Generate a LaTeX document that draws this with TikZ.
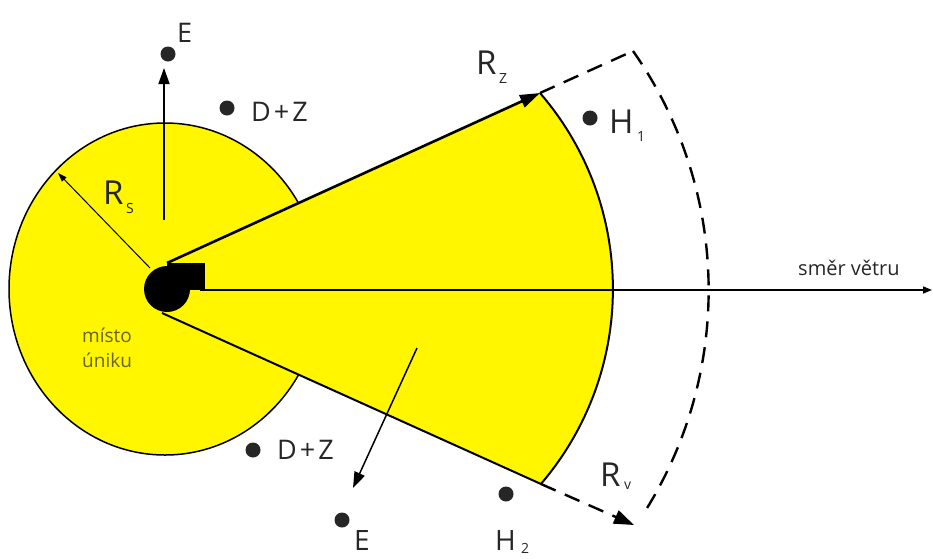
\documentclass[tikz,border=0pt]{standalone}
\usepackage{fontspec}
\setmainfont{Open Sans}
\usetikzlibrary{arrows.meta}
\definecolor{zel}{RGB}{255,246,0}
\definecolor{ink}{RGB}{38,38,38}
\definecolor{olv}{RGB}{105,100,35}
\begin{document}
\begin{tikzpicture}[x=1pt,y=-1pt,
  lbl/.style={anchor=base west, inner sep=0pt, text=ink, font=\fontsize{27}{31}\selectfont},
  big/.style={anchor=base west, inner sep=0pt, text=ink, font=\fontsize{33}{38}\selectfont},
  sub/.style={anchor=base west, inner sep=0pt, text=ink, font=\fontsize{14}{16}\selectfont},
  small/.style={anchor=base west, inner sep=0pt, text=ink, font=\fontsize{20}{24}\selectfont},
  dot/.style={circle, fill=ink, minimum size=15pt, inner sep=0pt},
  edge/.style={line width=2pt, draw=black},
  dsh/.style={line width=2.4pt, dash pattern=on 16pt off 10pt},
  thinarrow/.style={line width=1.5pt, -{Triangle[length=16pt,width=11pt]}}]
\useasboundingbox (0,0) rectangle (933,558);
% release zone
\fill[zel] (165,289) ellipse [x radius=156, y radius=166];
\draw[line width=1.5pt] (165,289) ellipse [x radius=156, y radius=166];
% sector
\coordinate (ua) at (167,263);
\coordinate (la) at (162,313);
\coordinate (su) at (540,93);
\coordinate (sl) at (541,484);
\fill[zel] (ua) -- (su) arc[start angle=-40.8, end angle=40.5, radius=300] -- (la) -- cycle;
\draw[edge] (su) arc[start angle=-40.8, end angle=40.5, radius=300];
\draw[line width=2.6pt, -{Triangle[length=20pt,width=13pt]}] (ua) -- (su);
\draw[edge] (la) -- (sl);
% dashed outer zone
\coordinate (du) at (633,51);
\coordinate (dl) at (634,525);
\draw[dsh] (su) -- (du);
\draw[dsh] (du) arc[start angle=-35.1, end angle=32.5, radius=416];
\draw[dsh, -{Triangle[length=20pt,width=14pt]}] (sl) -- (dl);
% wind axis
\coordinate (wa) at (200,290);
\coordinate (wb) at (932,290);
\draw[line width=1.5pt, -{Triangle[length=9pt,width=7pt]}] (wa) -- (wb);
% source symbol
\fill[black] (167,289) circle[radius=23];
\fill[black] (167,263) rectangle (205,290);
% arrows
\coordinate (ea) at (164,220);
\coordinate (eb) at (164,68);
\draw[thinarrow] (ea) -- (eb);
\coordinate (ra) at (150,268);
\coordinate (rb) at (58,173);
\draw[line width=1pt, -{Triangle[length=9pt,width=6pt]}] (ra) -- (rb);
\coordinate (da) at (417,348);
\coordinate (db) at (353,488);
\draw[thinarrow] (da) -- (db);
% dots
\node[dot] (d1) at (168,54) {};
\node[dot] (d2) at (227,108) {};
\node[dot] (d3) at (253,450) {};
\node[dot] (d4) at (342,520) {};
\node[dot] (d5) at (590,118) {};
\node[dot] (d6) at (506,494) {};
% labels
\node[lbl] (tE1) at (177,42) {E};
\node[lbl] (tDZ1) at (251,121) {D{\kern3pt}+{\kern3pt}Z};
\node[lbl] (tDZ2) at (277,459) {D{\kern3pt}+{\kern3pt}Z};
\node[lbl, font=\fontsize{28}{32}\selectfont] (tE2) at (354,550) {E};
\node[big] (tRz) at (476,74) {R};
\node[sub] (tRzs) at (499,83) {Z};
\node[big] (tH1) at (609,133) {H};
\node[sub] (tH1s) at (637,141) {1};
\node[big] (tRs) at (103,204) {R};
\node[sub] (tRss) at (126,213) {S};
\node[big] (tRv) at (600,486) {R};
\node[sub] (tRvs) at (624,489) {v};
\node[lbl, font=\fontsize{28}{32}\selectfont] (tH2) at (495,550) {H};
\node[sub] (tH2s) at (521,553) {2};
\node[small] (wind) at (798,275) {směr větru};
\node[anchor=base west, inner sep=0pt, text=olv, font=\fontsize{19}{26}\selectfont, align=left] (src) at (82,367) {místo\\[-1pt]úniku};
\end{tikzpicture}
\end{document}
